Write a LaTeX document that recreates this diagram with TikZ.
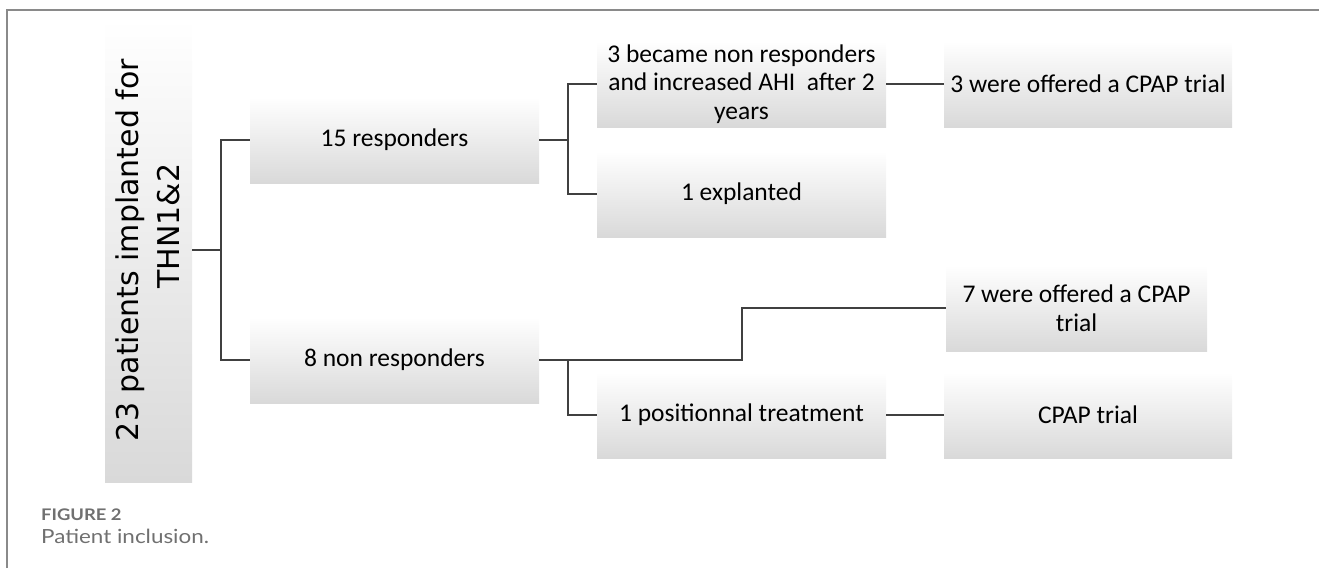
\documentclass[tikz,border=0pt]{standalone}
\usepackage{fontspec}
\setmainfont{Carlito}
\newfontfamily\vfont{DejaVu Sans}
\newfontfamily\capfont[FakeStretch=1.15]{Lato}
\definecolor{linecol}{HTML}{404040}
\definecolor{boxgray}{HTML}{D9D9D9}
\definecolor{framecol}{HTML}{8A8A8A}
\definecolor{capgray}{HTML}{707070}
\tikzset{
  shadebox/.style={rectangle, inner sep=0pt, top color=white, middle color=white, bottom color=boxgray, draw=none},
  hbox/.style={shadebox, minimum width=289pt, minimum height=86pt, align=center,
    font=\fontsize{25.5}{28.5}\selectfont},
  conn/.style={draw=linecol, line width=1.6pt},
}
\begin{document}
\begin{tikzpicture}[x=1pt,y=-1pt]
\useasboundingbox (0,0) rectangle (1319,568);
% frame
\draw[framecol, line width=1.5pt] (7,568) -- (7,10) -- (1319,10);
% root box
\node[shadebox, minimum width=87pt, minimum height=464pt] (root) at (148.5,250) {};
\node[rotate=90, align=center, inner sep=0pt, font=\vfont\fontsize{30}{41}\selectfont] (roottxt) at (148,248) {23 patients implanted for\hspace*{4pt}\\\hspace*{44pt}THN1\&2};
% level 1
\node[hbox] (r15) at (394.5,140) {15 responders};
\node[hbox] (nr8) at (394.5,360) {8 non responders};
% level 2
\node[hbox] (b3) at (741.5,84) {3 became non responders\\and increased AHI\ \ after 2\\years};
\node[hbox] (ex1) at (741.5,194) {1 explanted};
\node[hbox] (pos1) at (741.5,415) {1 positionnal treatment};
% level 3
\node[hbox, minimum width=288pt] (o3) at (1088,84) {3 were offered a CPAP trial};
\node[hbox, minimum width=261pt] (o7) at (1076.5,308) {7 were offered a CPAP\\trial};
\node[hbox, minimum width=288pt] (cp) at (1088,415) {CPAP trial};
% junctions
\coordinate (j1) at (221,250);
\coordinate (j2) at (568,140);
\coordinate (j3) at (568,360);
\coordinate (j4) at (742,360);
% connectors
\draw[conn] (root.east) -- (j1);
\draw[conn] (r15.west) -| (j1) |- (nr8.west);
\draw[conn] (r15.east) -- (j2);
\draw[conn] (b3.west) -| (j2) |- (ex1.west);
\draw[conn] (b3.east) -- (o3.west);
\draw[conn] (nr8.east) -- (j3) |- (pos1.west);
\draw[conn] (j3) -- (j4) |- (o7.west);
\draw[conn] (pos1.east) -- (cp.west);
% caption
\node[anchor=base west, inner sep=0pt, text=capgray, font=\capfont\bfseries\fontsize{16}{18}\selectfont] (figlab) at (41,520) {FIGURE 2};
\node[anchor=base west, inner sep=0pt, text=capgray, font=\capfont\fontsize{19.5}{22}\selectfont] (figcap) at (41,543) {Patient inclusion.};
\end{tikzpicture}
\end{document}
